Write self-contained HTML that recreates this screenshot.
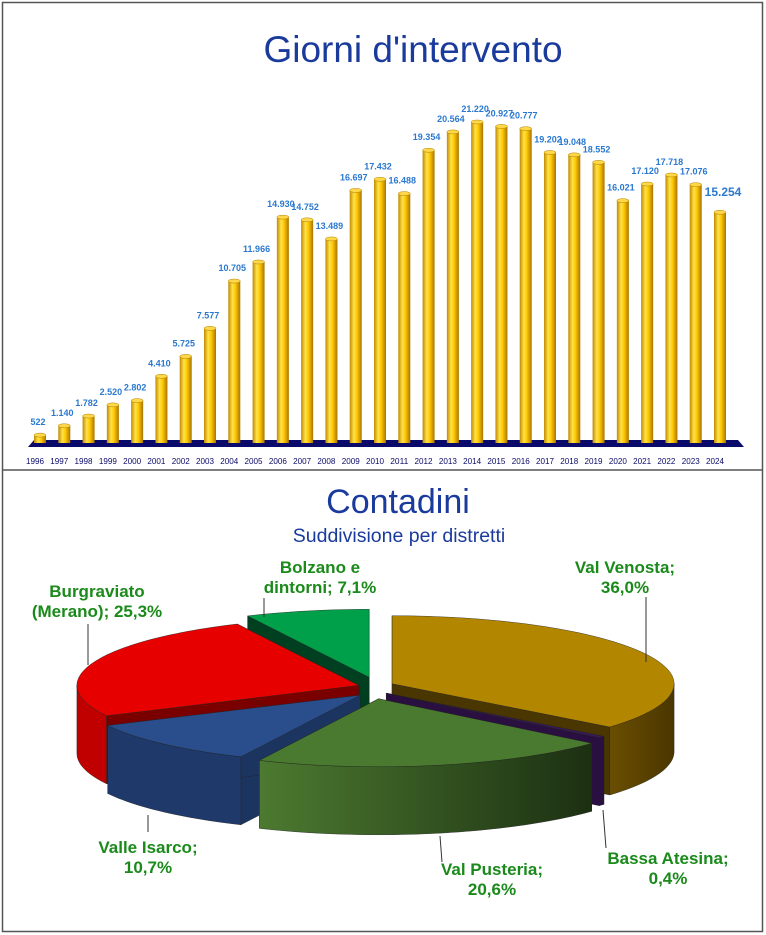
<!DOCTYPE html>
<html><head><meta charset="utf-8"><style>
body{margin:0;background:#fff;}
svg{display:block;font-family:"Liberation Sans",sans-serif;}
</style></head><body>
<svg id="s" width="766" height="935" viewBox="0 0 766 935">
<defs>
<linearGradient id="barg" x1="0" x2="1" y1="0" y2="0">
<stop offset="0" stop-color="#c08a00"/><stop offset="0.35" stop-color="#ffe24a"/><stop offset="0.6" stop-color="#ffc800"/><stop offset="1" stop-color="#a87400"/></linearGradient>
<linearGradient id="pustg" x1="0" x2="1"><stop offset="0" stop-color="#4c7a30"/><stop offset="1" stop-color="#1c3012"/></linearGradient>
<linearGradient id="venog" x1="0" x2="1"><stop offset="0" stop-color="#6a4e00"/><stop offset="1" stop-color="#4a3600"/></linearGradient>
</defs>
<rect x="2.5" y="2.5" width="760" height="929" fill="#fff" stroke="#555" stroke-width="1.5"/>
<line x1="3" y1="470" x2="762" y2="470" stroke="#555" stroke-width="1.5"/>
<text x="413" y="62" text-anchor="middle" font-size="37" fill="#1a3a9c">Giorni d'intervento</text>
<polygon points="28,447 744,447 738,440 34,440" fill="#0a0a6a"/>
<g id="bars"></g>
<text x="398" y="513" text-anchor="middle" font-size="34" fill="#1a3a9c">Contadini</text>
<text x="399" y="542" text-anchor="middle" font-size="19.5" fill="#1a3a9c">Suddivisione per distretti</text>
<g id="pie"></g>
<g id="labels" font-weight="bold" font-size="17" fill="#1a8a1a" text-anchor="middle">
<text x="625" y="573"><tspan x="625">Val Venosta;</tspan><tspan x="625" dy="20">36,0%</tspan></text>
<text x="320" y="573"><tspan x="320">Bolzano e</tspan><tspan x="320" dy="20">dintorni; 7,1%</tspan></text>
<text x="97" y="597"><tspan x="97">Burgraviato</tspan><tspan x="97" dy="20">(Merano); 25,3%</tspan></text>
<text x="148" y="853"><tspan x="148">Valle Isarco;</tspan><tspan x="148" dy="20">10,7%</tspan></text>
<text x="492" y="875"><tspan x="492">Val Pusteria;</tspan><tspan x="492" dy="20">20,6%</tspan></text>
<text x="668" y="864"><tspan x="668">Bassa Atesina;</tspan><tspan x="668" dy="20">0,4%</tspan></text>
</g>
<g stroke="#333" stroke-width="1" fill="none">
<line x1="646" y1="597" x2="646" y2="662"/><line x1="264" y1="598" x2="264" y2="617"/>
<line x1="88" y1="624" x2="88" y2="665"/><line x1="148" y1="832" x2="148" y2="815"/>
<line x1="442" y1="862" x2="440" y2="836"/><line x1="606" y1="848" x2="603" y2="810"/>
</g>
</svg>
<script>
const years=["1996","1997","1998","1999","2000","2001","2002","2003","2004","2005","2006","2007","2008","2009","2010","2011","2012","2013","2014","2015","2016","2017","2018","2019","2020","2021","2022","2023","2024"];
const values=[522,1140,1782,2520,2802,4410,5725,7577,10705,11966,14930,14752,13489,16697,17432,16488,19354,20564,21220,20927,20777,19202,19048,18552,16021,17120,17718,17076,15254];
const valueLabels=["522","1.140","1.782","2.520","2.802","4.410","5.725","7.577","10.705","11.966","14.930","14.752","13.489","16.697","17.432","16.488","19.354","20.564","21.220","20.927","20.777","19.202","19.048","18.552","16.021","17.120","17.718","17.076","15.254"];
const sliceNames=["Val Venosta","Bassa Atesina","Val Pusteria","Valle Isarco","Burgraviato","Bolzano"];
const sliceValues=[36.0,0.4,20.6,10.7,25.3,7.1];
const NS="http://www.w3.org/2000/svg";
function mk(t,a,p){const e=document.createElementNS(NS,t);for(const k in a)e.setAttribute(k,a[k]);p.appendChild(e);return e;}
const bars=document.getElementById('bars');
const x0=40,step=(720-40)/28,base=443,maxV=21220,hTop=122;
const xS=i=>x0+i*step, yS=v=>base-(base-hTop)*v/maxV;
values.forEach((v,i)=>{
  const cx=xS(i),y=yS(v),w=12;
  const r=mk('rect',{x:cx-w/2,y:y,width:w,height:base-y,fill:'url(#barg)'},bars);
  
  
  const c=mk('ellipse',{cx:cx,cy:y,rx:w/2,ry:2,fill:'#ffd84a',stroke:'#b08000','stroke-width':0.5},bars);
  
  
  const last=i===values.length-1;
  const t=mk('text',{x:cx+(last?3:-2),y:y-(last?16:10),'text-anchor':'middle','font-size':last?12:9,'font-weight':'bold',fill:'#2a78d0'},bars);
  t.textContent=valueLabels[i];
  
  
  const yl=mk('text',{x:cx-5,y:464,'text-anchor':'middle','font-size':8,fill:'#0a0a6a',textLength:18,lengthAdjust:'spacingAndGlyphs'},bars);
  yl.textContent=years[i];
  
  
});
const pie=document.getElementById('pie');
const PC={cx:374,cy:688,rx:282,ry:68,d:68};
const topC=["#b38600","#3a1a5a","#4a7a30","#2a4e8c","#e60000","#00a04a"];
const sideC=["url(#venog)","#2a1040","url(#pustg)","#1f3a6a","#c00000","#005028"];
const wallC=["#4a3600","#2a1040","#2e4a1e","#1c3560","#7a0000","#004020"];
const expl=[20,16,22,20,16,22];
const total=sliceValues.reduce((a,b)=>a+b,0);
const rad=d=>d*Math.PI/180;
let acc=0;const sl=sliceValues.map((v,i)=>{const a=acc/total*360;acc+=v;const b=acc/total*360;const m=(a+b)/2;
 return {i,a,b,m,dx:expl[i]*Math.sin(rad(m)),dy:-expl[i]*Math.cos(rad(m))*0.5};});
function P(s,t,dz){return [PC.cx+s.dx+PC.rx*Math.sin(rad(t)),PC.cy+s.dy-PC.ry*Math.cos(rad(t))+(dz||0)];}
function arc(s,a,b,dz){let p='';const n=Math.max(2,Math.ceil(Math.abs(b-a)/1.5));for(let k=0;k<=n;k++){const q=P(s,a+(b-a)*k/n,dz);p+=(k?'L':'')+q[0].toFixed(1)+','+q[1].toFixed(1);}return p;}
[...sl].sort((u,v)=>Math.cos(rad(v.m))-Math.cos(rad(u.m))).forEach(s=>{
  const g=mk('g',{},pie);
  
  
  const c=[PC.cx+s.dx,PC.cy+s.dy];
  [s.a,s.b].forEach(t=>{const q=P(s,t);
    mk('path',{d:`M${c[0]},${c[1]}L${q[0]},${q[1]}L${q[0]},${q[1]+PC.d}L${c[0]},${c[1]+PC.d}Z`,fill:wallC[s.i],stroke:'#222','stroke-width':0.4},g);});
  const lo=Math.max(s.a,90),hi=Math.min(s.b,270);
  if(hi>lo){const top=arc(s,lo,hi,0);const bot=arc(s,hi,lo,PC.d);
    mk('path',{d:'M'+top+'L'+bot+'Z',fill:sideC[s.i],stroke:'#222','stroke-width':0.4},g);}
  mk('path',{d:`M${c[0]},${c[1]}L`+arc(s,s.a,s.b,0)+'Z',fill:topC[s.i],stroke:'#222','stroke-width':0.4},g);
});
</script>
</body></html>
